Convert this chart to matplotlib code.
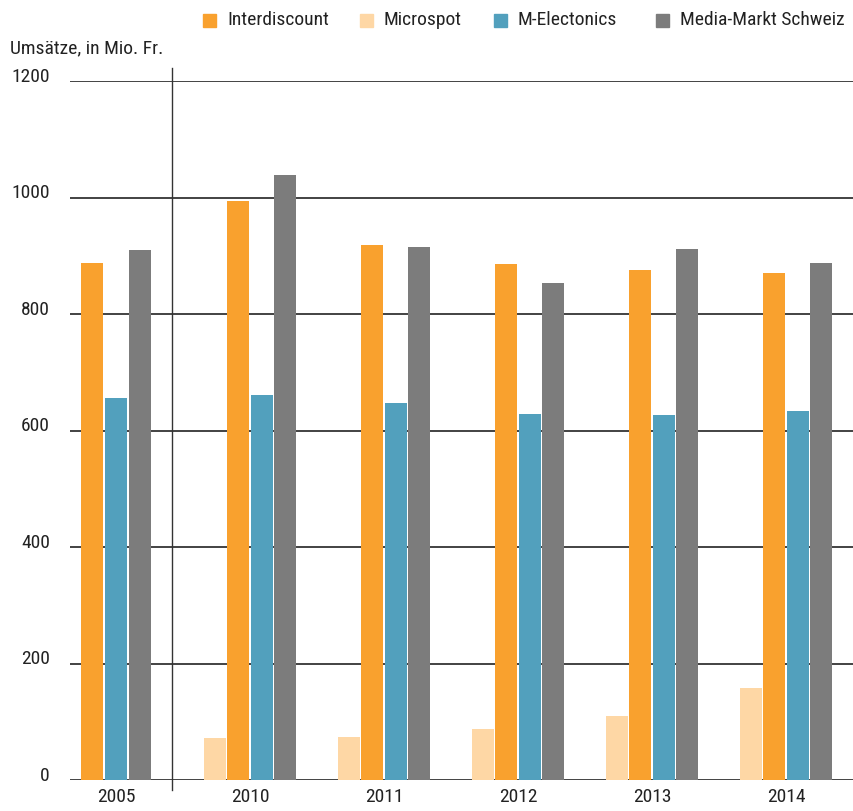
import matplotlib
matplotlib.use('Agg')
import matplotlib.pyplot as plt
import matplotlib.transforms as mtransforms

plt.rcParams['font.family'] = ['Roboto Condensed', 'DejaVu Sans']

years = ['2005', '2010', '2011', '2012', '2013', '2014']
series = ['Interdiscount', 'Microspot', 'M-Electonics', 'Media-Markt Schweiz']
colors = ['#F9A12E', '#FED7A5', '#52A0BD', '#7C7C7C']

interdiscount = [888, 994, 918, 886, 876, 870]
microspot = [None, 72, 74, 88, 110, 158]
m_electronics = [656, 661, 647, 628, 627, 633]
media_markt = [910, 1039, 915, 853, 912, 888]

yticks = [0, 200, 400, 600, 800, 1000, 1200]

W, H = 854, 811
fig = plt.figure(figsize=(W / 100, H / 100), dpi=100)
ax = fig.add_axes([70 / W, (H - 780) / H, 1 - 70 / W, (780 - 81) / H])

bar_w = 0.164
step = 0.176

for i, year in enumerate(years):
    vals = [microspot[i], interdiscount[i], m_electronics[i], media_markt[i]]
    cols = [colors[1], colors[0], colors[2], colors[3]]
    present = [(v, c) for v, c in zip(vals, cols) if v is not None]
    n = len(present)
    for k, (v, c) in enumerate(present):
        xpos = i + (k - (n - 1) / 2) * step
        ax.bar(xpos, v, width=bar_w, color=c, zorder=3)

for yv in yticks:
    ax.axhline(yv, color='#222222', lw=1.2, zorder=2)

ax.set_xlim(-0.343, 5.507)
ax.set_ylim(0, 1200)

# separator between 2005 and the later years
ax.plot([0.42, 0.42], [-17, 1222], color='#333333', lw=1.0, clip_on=False, zorder=4)

for s in ax.spines.values():
    s.set_visible(False)
ax.set_yticks([])
ax.set_xticks(range(len(years)))
ax.set_xticklabels(years, fontsize=14, color='#222222')
ax.tick_params(axis='x', length=0, pad=6)

trans = mtransforms.blended_transform_factory(fig.transFigure, ax.transData)
for yv in yticks:
    ax.text(50 / W, yv - 1, str(yv), transform=trans, ha='right', va='baseline',
            fontsize=14, color='#222222')

fig.text(10 / W, 1 - 48 / H, 'Umsätze, in Mio. Fr.', ha='left', va='center',
         fontsize=14, color='#222222')

# legend
leg_x = [203, 360, 494, 656]
for name, c, lx in zip(series, colors, leg_x):
    fig.patches.append(plt.Rectangle((lx / W, 1 - 27 / H), 13 / W, 13 / H,
                                     transform=fig.transFigure, color=c, figure=fig))
    fig.text((lx + 24) / W, 1 - 20 / H, name, ha='left', va='center',
             fontsize=14, color='#222222')

fig.savefig('out.png', dpi=100)
